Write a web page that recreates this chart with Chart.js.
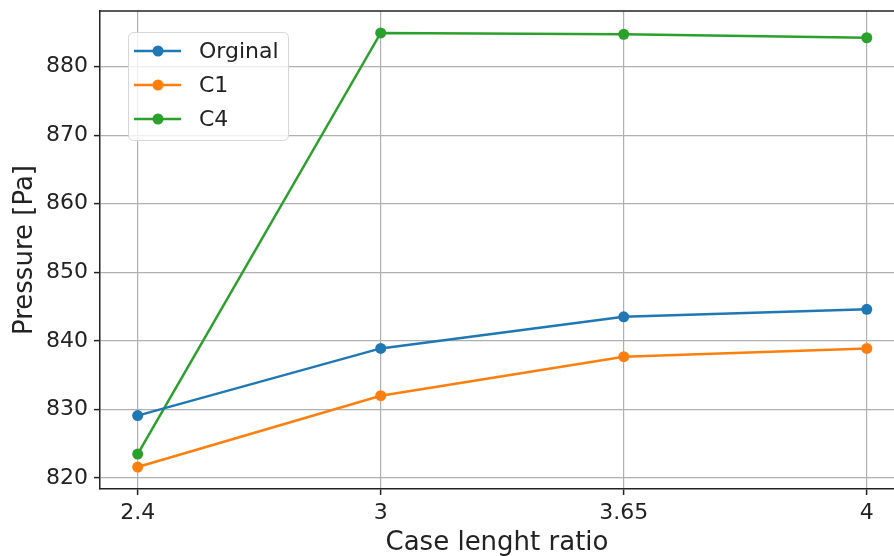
<!DOCTYPE html>
<html>
<head>
<meta charset="utf-8">
<script src="https://cdn.jsdelivr.net/npm/chart.js@4.4.1/dist/chart.umd.min.js"></script>
<style>
  html, body { margin: 0; padding: 0; background: #fff; overflow: hidden; }
</style>
</head>
<body>
<canvas id="grafico" width="894" height="556" style="width:894px;height:556px"></canvas>
<script>
// dados
var categorias = ['2.4', '3', '3.65', '4'];
var posicoes = [0, 1, 2, 3];
var orginal = [829.1, 838.9, 843.5, 844.6];
var c1 = [821.6, 832.0, 837.7, 838.9];
var c4 = [823.5, 884.9, 884.7, 884.2];
var ticksY = [820, 830, 840, 850, 860, 870, 880];

var fonte = 'DejaVu Sans';

function pontos(valores) {
    return valores.map((v, i) => ({ x: posicoes[i], y: v }));
}

function serie(label, valores, cor) {
    return {
        label: label,
        data: pontos(valores),
        borderColor: cor,
        backgroundColor: cor,
        borderWidth: 2.5,
        pointRadius: 5.5,
        pointHoverRadius: 5.5,
        pointBorderWidth: 0,
        tension: 0,
        clip: false
    };
}

// zera o padding extra que o chart.js reserva pros rótulos
function semPadding(s) {
    s.paddingTop = 0;
    s.paddingBottom = 0;
    s.paddingLeft = 0;
    s.paddingRight = 0;
}

// borda de cima + legenda
var extras = {
    id: 'extras',
    afterDraw(chart) {
        const ctx = chart.ctx;
        const a = chart.chartArea;
        ctx.save();
        ctx.strokeStyle = '#222';
        ctx.lineWidth = 1.5;
        ctx.beginPath();
        ctx.moveTo(a.left, a.top);
        ctx.lineTo(a.right, a.top);
        ctx.stroke();

        // legenda
        const x0 = 128.5, y0 = 32.5, w = 160, h = 108;
        ctx.beginPath();
        ctx.roundRect(x0, y0, w, h, 5);
        ctx.fillStyle = 'rgba(255,255,255,0.8)';
        ctx.fill();
        ctx.strokeStyle = '#d6d6d6';
        ctx.lineWidth = 1;
        ctx.stroke();

        ctx.font = '22px "' + fonte + '"';
        ctx.textBaseline = 'middle';
        ctx.textAlign = 'left';
        chart.data.datasets.forEach((ds, i) => {
            const y = 51 + i * 34;
            ctx.strokeStyle = ds.borderColor;
            ctx.lineWidth = 2.5;
            ctx.beginPath();
            ctx.moveTo(134, y);
            ctx.lineTo(181, y);
            ctx.stroke();
            ctx.fillStyle = ds.borderColor;
            ctx.beginPath();
            ctx.arc(158, y, 5.5, 0, Math.PI * 2);
            ctx.fill();
            ctx.fillStyle = '#222';
            ctx.fillText(ds.label, 199, y + 1);
        });
        ctx.restore();
    }
};

var grafico = new Chart(document.getElementById('grafico'), {
    type: 'line',
    data: {
        datasets: [
            serie('Orginal', orginal, '#1f77b4'),
            serie('C1', c1, '#ff7f0e'),
            serie('C4', c4, '#2ca02c')
        ]
    },
    plugins: [extras],
    options: {
        responsive: false,
        animation: false,
        events: [],
        layout: { autoPadding: false, padding: { top: 11, right: 0, left: 0, bottom: 0 } },
        plugins: {
            legend: { display: false },
            tooltip: { enabled: false }
        },
        scales: {
            x: {
                type: 'linear',
                min: -0.155,
                max: 3.112,
                afterBuildTicks: (s) => { s.ticks = posicoes.map(v => ({ value: v })); },
                afterFit: (s) => { s.height = 67; semPadding(s); },
                ticks: {
                    callback: (v, i) => categorias[i],
                    autoSkip: false,
                    maxRotation: 0,
                    padding: 5,
                    color: '#222',
                    font: { family: fonte, size: 22 }
                },
                grid: {
                    color: '#b0b0b0',
                    lineWidth: 1.2,
                    tickColor: '#222',
                    tickLength: 6,
                    tickWidth: 1.5
                },
                border: { color: '#222', width: 1.5 },
                title: {
                    display: true,
                    text: 'Case lenght ratio',
                    color: '#222',
                    font: { family: fonte, size: 26 },
                    padding: { top: 0, bottom: -3 }
                }
            },
            y: {
                min: 818.4,
                max: 888.1,
                afterBuildTicks: (s) => { s.ticks = ticksY.map(v => ({ value: v })); },
                afterFit: (s) => { s.width = 100; semPadding(s); },
                ticks: {
                    padding: 6,
                    color: '#222',
                    font: { family: fonte, size: 22 }
                },
                grid: {
                    color: '#b0b0b0',
                    lineWidth: 1.2,
                    tickColor: '#222',
                    tickLength: 6,
                    tickWidth: 1.5
                },
                border: { color: '#222', width: 1.5 },
                title: {
                    display: true,
                    text: 'Pressure [Pa]',
                    color: '#222',
                    font: { family: fonte, size: 26 },
                    padding: { top: 10, bottom: 0 }
                }
            }
        }
    }
});
</script>
</body>
</html>
